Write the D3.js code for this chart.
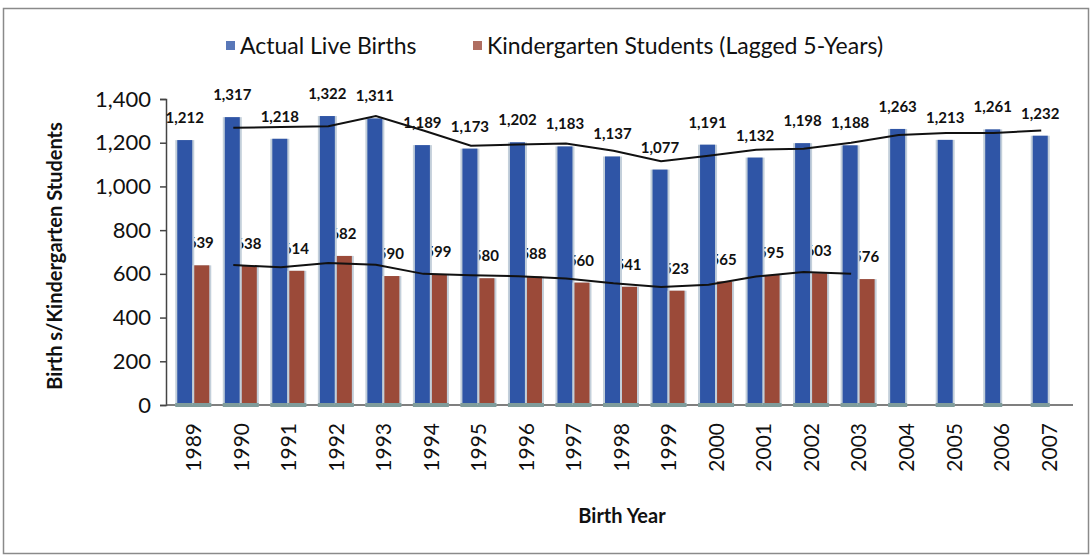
<!DOCTYPE html>
<html>
<head>
<meta charset="utf-8">
<script src="https://cdn.jsdelivr.net/npm/d3@7"></script>
<style>
  body { margin: 0; background: #fff; }
  text { font-family: Lato, "Open Sans", sans-serif; fill: #111; }
  .value { font-size: 15px; font-weight: bold; }
  .tick-y { font-size: 22px; }
  .tick-x { font-size: 21px; }
  .label { font-size: 20px; font-weight: bold; }
  .legend { font-size: 23px; }
</style>
</head>
<body>
<div id="container"></div>
<script>
    const years = ['1989', '1990', '1991', '1992', '1993', '1994', '1995', '1996', '1997', '1998',
      '1999', '2000', '2001', '2002', '2003', '2004', '2005', '2006', '2007'];
    const births = [1212, 1317, 1218, 1322, 1311, 1189, 1173, 1202, 1183, 1137,
      1077, 1191, 1132, 1198, 1188, 1263, 1213, 1261, 1232];
    // kindergarten counts only exist up to 2003
    const kinder = [639, 638, 614, 682, 590, 599, 580, 588, 560, 541, 523, 565, 595, 603, 576];
    // moving-average trend lines (start at 1990)
    const birthsTrend = [1268, 1272, 1275, 1322, 1256, 1186, 1192, 1196, 1163, 1115,
      1140, 1168, 1172, 1200, 1235, 1245, 1244, 1256];
    const kinderTrend = [640, 630, 650, 642, 600, 594, 589, 579, 557, 540, 550, 588, 608, 600];
    const yTicks = [0, 200, 400, 600, 800, 1000, 1200, 1400];
    const seriesNames = ['Actual Live Births', 'Kindergarten Students (Lagged 5-Years)'];
    const colors = ['#2f55a6', '#9b4a39'];

    const W = 1091, H = 558;
    const plotLeft = 166, plotTop = 99, plotBottom = 405, plotRight = 1073;

    const svg = d3.select('#container').append('svg')
      .attr('width', W)
      .attr('height', H);

    // scanned frame
    svg.append('rect')
      .attr('x', 3.5).attr('y', 8.5)
      .attr('width', W - 6).attr('height', H - 13)
      .attr('fill', 'none')
      .attr('stroke', '#8a8a8a')
      .attr('stroke-width', 1.5);

    const x = d3.scaleBand()
      .range([170, plotRight])
      .domain(years);

    const y = d3.scaleLinear()
      .range([plotBottom, plotTop])
      .domain([0, 1400]);

    const barW = 15;
    const blueX = (i) => x(years[i]) + x.bandwidth() / 2 - 16.5;
    const redX = (i) => x(years[i]) + x.bandwidth() / 2 + 0.5;

    // axes
    const yAxis = svg.append('g')
      .attr('transform', `translate(${plotLeft},0)`)
      .call(d3.axisLeft(y).tickValues(yTicks).tickSize(6).tickFormat(d3.format(',')));
    yAxis.select('.domain').attr('stroke', '#444').attr('stroke-width', 1.5);
    yAxis.selectAll('.tick line').attr('stroke', '#444').attr('stroke-width', 1.5);
    yAxis.selectAll('.tick text')
      .attr('class', 'tick-y')
      .attr('x', -15);
    yAxis.attr('font-family', null).attr('font-size', null);

    const xAxis = svg.append('g')
      .attr('transform', `translate(0,${plotBottom})`)
      .call(d3.axisBottom(x).tickSize(0));
    xAxis.attr('font-family', null).attr('font-size', null);
    xAxis.select('.domain').attr('stroke', '#555').attr('stroke-width', 1.5)
      .attr('d', `M${plotLeft},0H${plotRight}`);
    xAxis.selectAll('.tick text')
      .attr('class', 'tick-x')
      .attr('transform', 'rotate(-90)')
      .attr('text-anchor', 'end')
      .attr('x', -18)
      .attr('y', 0)
      .attr('dy', '0.35em');

    // kindergarten labels sit under the bars in the original
    svg.selectAll('.kval')
      .data(kinder)
      .enter()
      .append('text')
      .attr('class', 'value')
      .attr('x', (d, i) => redX(i) + barW / 2 - 1)
      .attr('y', (d) => y(d) - 17)
      .attr('text-anchor', 'middle')
      .text((d) => d3.format(',')(d));

    function drawBars(data, xf, color) {
      const g = svg.append('g');
      // pale edge around each bar
      g.selectAll('.edge')
        .data(data)
        .enter()
        .append('rect')
        .attr('x', (d, i) => xf(i) - 2)
        .attr('y', (d) => y(d))
        .attr('width', barW + 4)
        .attr('height', (d) => plotBottom - y(d))
        .attr('fill', '#c3cfda');
      g.selectAll('.bar')
        .data(data)
        .enter()
        .append('rect')
        .attr('x', (d, i) => xf(i))
        .attr('y', (d) => y(d))
        .attr('width', barW)
        .attr('height', (d) => plotBottom - y(d))
        .attr('fill', color);
      g.selectAll('.base')
        .data(data)
        .enter()
        .append('rect')
        .attr('x', (d, i) => xf(i) - 2)
        .attr('y', plotBottom - 2)
        .attr('width', barW + 4)
        .attr('height', 4)
        .attr('fill', '#7f9c9b');
    }

    drawBars(births, blueX, colors[0]);
    drawBars(kinder, redX, colors[1]);

    svg.selectAll('.bval')
      .data(births)
      .enter()
      .append('text')
      .attr('class', 'value')
      .attr('x', (d, i) => blueX(i) + barW / 2)
      .attr('y', (d) => y(d) - 17)
      .attr('text-anchor', 'middle')
      .text((d) => d3.format(',')(d));

    // trend lines
    const line = d3.line()
      .x((d) => x(d.year) + x.bandwidth() / 2 - 8)
      .y((d) => y(d.v));

    svg.append('path')
      .datum(birthsTrend.map((v, i) => ({ year: years[i + 1], v: v })))
      .attr('d', line)
      .attr('fill', 'none')
      .attr('stroke', '#111')
      .attr('stroke-width', 2);

    svg.append('path')
      .datum(kinderTrend.map((v, i) => ({ year: years[i + 1], v: v })))
      .attr('d', line)
      .attr('fill', 'none')
      .attr('stroke', '#111')
      .attr('stroke-width', 2);

    // axis titles
    svg.append('text')
      .attr('class', 'label')
      .attr('transform', 'translate(62,256) rotate(-90)')
      .attr('text-anchor', 'middle')
      .text('Birth s/Kindergarten Students');

    svg.append('text')
      .attr('class', 'label')
      .attr('x', 622)
      .attr('y', 523)
      .attr('text-anchor', 'middle')
      .text('Birth Year');

    // legend
    const legendX = [226, 473];
    const legend = svg.selectAll('.leg')
      .data(seriesNames)
      .enter()
      .append('g')
      .attr('transform', (d, i) => `translate(${legendX[i]},0)`);
    legend.append('rect')
      .attr('x', 0).attr('y', 41)
      .attr('width', 9).attr('height', 9)
      .attr('fill', (d, i) => colors[i])
      .attr('opacity', 0.8);
    legend.append('text')
      .attr('class', 'legend')
      .attr('x', 14)
      .attr('y', 54)
      .text((d) => d);
</script>
</body>
</html>
